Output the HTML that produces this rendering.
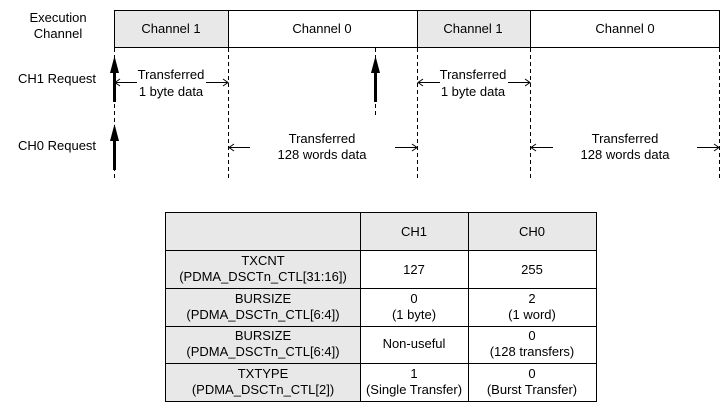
<!DOCTYPE html>
<html><head><style>
html,body{margin:0;padding:0;background:#fff;}
svg{display:block;font-family:"Liberation Sans",Arial,sans-serif;font-size:13px;}
</style></head><body>
<svg width="728" height="412" viewBox="0 0 728 412" xmlns="http://www.w3.org/2000/svg">
<rect x="114.5" y="10.5" width="114" height="37" fill="#e8e8e8" stroke="#000"/>
<rect x="228.5" y="10.5" width="189" height="37" fill="#fff" stroke="#000"/>
<rect x="417.5" y="10.5" width="113" height="37" fill="#e8e8e8" stroke="#000"/>
<rect x="530.5" y="10.5" width="189" height="37" fill="#fff" stroke="#000"/>
<g text-anchor="middle" fill="#000">
<text x="171" y="33">Channel 1</text>
<text x="322" y="33">Channel 0</text>
<text x="473" y="33">Channel 1</text>
<text x="625" y="33">Channel 0</text>
<text x="58" y="22">Execution</text>
<text x="58" y="38">Channel</text>
</g>
<text x="18" y="83" fill="#000">CH1 Request</text>
<text x="18" y="150" fill="#000">CH0 Request</text>
<g stroke="#000" stroke-dasharray="4,3" stroke-width="1">
<line x1="114.5" y1="48" x2="114.5" y2="180"/>
<line x1="228.5" y1="48" x2="228.5" y2="180"/>
<line x1="417.5" y1="48" x2="417.5" y2="180"/>
<line x1="530.5" y1="48" x2="530.5" y2="180"/>
<line x1="719.5" y1="48" x2="719.5" y2="180"/>
<line x1="375.5" y1="48" x2="375.5" y2="115"/>
</g>
<g fill="#000" stroke="#000">
<line x1="114.5" y1="70" x2="114.5" y2="102" stroke-width="3"/>
<polygon points="114.5,56 110,73 119,73" stroke="none"/>
<line x1="114.5" y1="138" x2="114.5" y2="170" stroke-width="3"/>
<polygon points="114.5,124 110,141 119,141" stroke="none"/>
<line x1="375.5" y1="70" x2="375.5" y2="102" stroke-width="3"/>
<polygon points="375.5,56 371,73 380,73" stroke="none"/>
</g>
<g stroke="#000" fill="none" stroke-width="1">
<line x1="115" y1="82.5" x2="137" y2="82.5"/><polyline points="120,79 115,82.5 120,86"/>
<line x1="206" y1="82.5" x2="228" y2="82.5"/><polyline points="223,79 228,82.5 223,86"/>
<line x1="418" y1="82.5" x2="440" y2="82.5"/><polyline points="423,79 418,82.5 423,86"/>
<line x1="508" y1="82.5" x2="530" y2="82.5"/><polyline points="525,79 530,82.5 525,86"/>
<line x1="229" y1="147.5" x2="250" y2="147.5"/><polyline points="234,144 229,147.5 234,151"/>
<line x1="395" y1="147.5" x2="417" y2="147.5"/><polyline points="412,144 417,147.5 412,151"/>
<line x1="531" y1="147.5" x2="553" y2="147.5"/><polyline points="536,144 531,147.5 536,151"/>
<line x1="697" y1="147.5" x2="719" y2="147.5"/><polyline points="714,144 719,147.5 714,151"/>
</g>
<g text-anchor="middle" fill="#000">
<text x="171" y="79">Transferred</text><text x="171" y="96">1 byte data</text>
<text x="473" y="79">Transferred</text><text x="473" y="96">1 byte data</text>
<text x="322" y="143">Transferred</text><text x="322" y="159">128 words data</text>
<text x="625" y="143">Transferred</text><text x="625" y="159">128 words data</text>
</g>
<rect x="165.5" y="212.5" width="431" height="38" fill="#e8e8e8"/>
<rect x="165.5" y="250.5" width="195" height="151" fill="#e8e8e8"/>
<g stroke="#000" stroke-width="1" fill="none">
<rect x="165.5" y="212.5" width="431" height="189"/>
<line x1="165" y1="250.5" x2="597" y2="250.5"/>
<line x1="165" y1="288.5" x2="597" y2="288.5"/>
<line x1="165" y1="326.5" x2="597" y2="326.5"/>
<line x1="165" y1="363.5" x2="597" y2="363.5"/>
<line x1="360.5" y1="212" x2="360.5" y2="402"/>
<line x1="468.5" y1="212" x2="468.5" y2="402"/>
</g>
<g text-anchor="middle" fill="#000">
<text x="414" y="236">CH1</text><text x="532" y="236">CH0</text>
<text x="263" y="265">TXCNT</text><text x="263" y="281">(PDMA_DSCTn_CTL[31:16])</text>
<text x="414" y="274">127</text><text x="532" y="274">255</text>
<text x="263" y="303">BURSIZE</text><text x="263" y="319">(PDMA_DSCTn_CTL[6:4])</text>
<text x="414" y="303">0</text><text x="414" y="319">(1 byte)</text>
<text x="532" y="303">2</text><text x="532" y="319">(1 word)</text>
<text x="263" y="340">BURSIZE</text><text x="263" y="356">(PDMA_DSCTn_CTL[6:4])</text>
<text x="414" y="348">Non-useful</text>
<text x="532" y="340">0</text><text x="532" y="356">(128 transfers)</text>
<text x="263" y="378">TXTYPE</text><text x="263" y="394">(PDMA_DSCTn_CTL[2])</text>
<text x="414" y="378">1</text><text x="414" y="394">(Single Transfer)</text>
<text x="532" y="378">0</text><text x="532" y="394">(Burst Transfer)</text>
</g>
</svg>
</body></html>
